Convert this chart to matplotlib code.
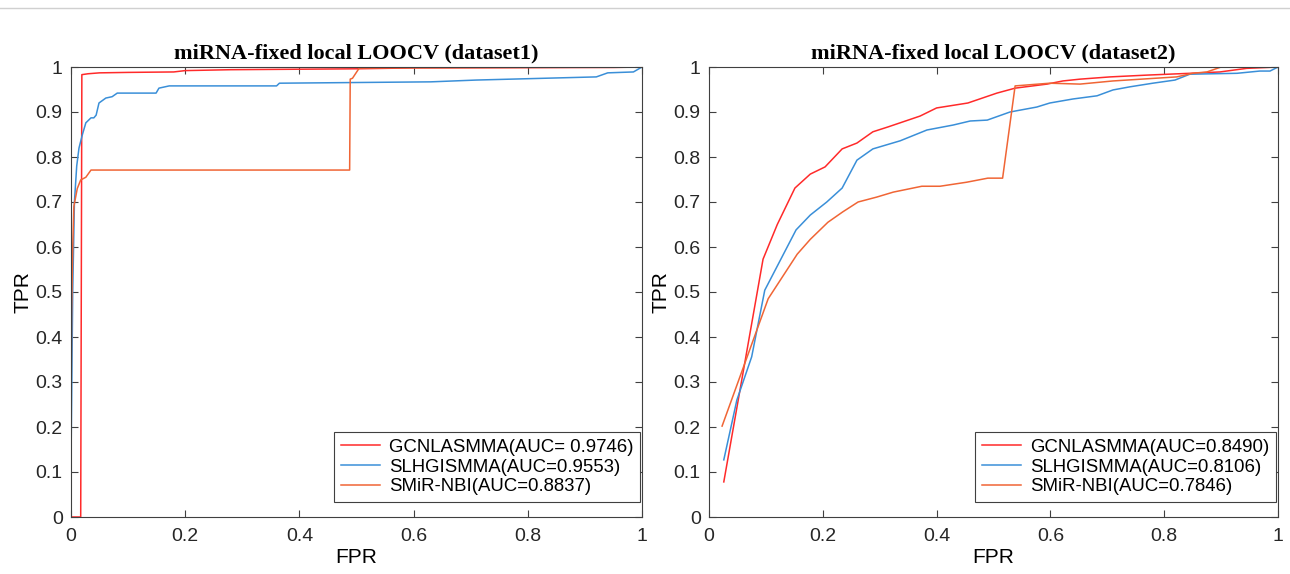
import matplotlib
matplotlib.use("Agg")
import matplotlib.pyplot as plt
from matplotlib.lines import Line2D
from matplotlib.ticker import FuncFormatter

# ---------------- data ----------------
titles = ["miRNA-fixed local LOOCV (dataset1)", "miRNA-fixed local LOOCV (dataset2)"]
methods = ["GCNLASMMA", "SLHGISMMA", "SMiR-NBI"]
auc1 = ["0.9746", "0.9553", "0.8837"]
auc2 = ["0.8490", "0.8106", "0.7846"]

# dataset1
d1_gcn_fpr = [0, 0.017, 0.019, 0.03, 0.05, 0.1, 0.18, 0.2, 0.28, 0.5, 0.6, 0.95, 1.0]
d1_gcn_tpr = [0, 0, 0.983, 0.985, 0.987, 0.988, 0.989, 0.992, 0.994, 0.996, 0.998, 0.999, 1.0]
d1_slh_fpr = [0, 0.003, 0.006, 0.01, 0.014, 0.02, 0.026, 0.035, 0.04, 0.044, 0.049, 0.061,
              0.072, 0.081, 0.149, 0.154, 0.172, 0.36, 0.365, 0.63, 0.71, 0.92, 0.94, 0.985, 1.0]
d1_slh_tpr = [0.12, 0.5, 0.7, 0.78, 0.82, 0.85, 0.876, 0.887, 0.887, 0.893, 0.92, 0.931,
              0.934, 0.942, 0.942, 0.953, 0.958, 0.958, 0.964, 0.967, 0.971, 0.978, 0.987, 0.989, 1.0]
d1_nbi_fpr = [0, 0.001, 0.003, 0.005, 0.011, 0.017, 0.026, 0.035, 0.488, 0.489, 0.493, 0.505, 1.0]
d1_nbi_tpr = [0.2, 0.45, 0.6, 0.69, 0.73, 0.749, 0.755, 0.771, 0.771, 0.973, 0.975, 0.998, 1.0]

# dataset2
d2_gcn_fpr = [0.026, 0.095, 0.12, 0.151, 0.178, 0.204, 0.234, 0.26, 0.288, 0.315, 0.336, 0.371,
              0.40, 0.42, 0.455, 0.506, 0.538, 0.594, 0.622, 0.652, 0.705, 0.77, 0.845, 0.898, 0.945, 1.0]
d2_gcn_tpr = [0.078, 0.573, 0.65, 0.731, 0.762, 0.778, 0.818, 0.831, 0.856, 0.867, 0.876, 0.891,
              0.909, 0.913, 0.92, 0.942, 0.953, 0.962, 0.969, 0.973, 0.978, 0.982, 0.986, 0.989, 0.997, 1.0]
d2_slh_fpr = [0.026, 0.049, 0.075, 0.098, 0.153, 0.178, 0.207, 0.234, 0.26, 0.288, 0.336, 0.383,
              0.429, 0.459, 0.489, 0.529, 0.576, 0.599, 0.64, 0.682, 0.71, 0.74, 0.78, 0.819,
              0.845, 0.928, 0.968, 0.986, 1.0]
d2_slh_tpr = [0.127, 0.26, 0.356, 0.504, 0.638, 0.671, 0.70, 0.731, 0.793, 0.818, 0.836, 0.86,
              0.871, 0.88, 0.882, 0.90, 0.911, 0.92, 0.929, 0.936, 0.949, 0.956, 0.964, 0.971,
              0.984, 0.986, 0.991, 0.991, 1.0]
d2_nbi_fpr = [0.023, 0.104, 0.155, 0.178, 0.209, 0.235, 0.262, 0.295, 0.324, 0.374, 0.406, 0.453,
              0.49, 0.516, 0.538, 0.599, 0.652, 0.71, 0.822, 0.85, 0.875, 0.9, 1.0]
d2_nbi_tpr = [0.202, 0.485, 0.584, 0.617, 0.655, 0.678, 0.70, 0.711, 0.722, 0.735, 0.735, 0.744,
              0.753, 0.753, 0.958, 0.964, 0.962, 0.969, 0.978, 0.986, 0.989, 1.0, 1.0]

colors = ["#ff2a2a", "#3a8fd8", "#f06535"]

# ---------------- plot ----------------
fig = plt.figure(figsize=(12.9, 5.74), dpi=100)
fig.add_artist(Line2D([0, 1], [1 - 8 / 574, 1 - 8 / 574], transform=fig.transFigure,
                      color="#d0d0d0", lw=1))

ax1 = fig.add_axes([71 / 1290, 1 - 517 / 574, (642 - 71) / 1290, (517 - 67) / 574])
ax2 = fig.add_axes([709 / 1290, 1 - 517 / 574, (1278 - 709) / 1290, (517 - 67) / 574])

sans = ["Liberation Sans", "DejaVu Sans"]
serif = ["Liberation Serif", "DejaVu Serif"]

def fmt(v, pos):
    s = f"{v:.1f}"
    if s == "0.0":
        return "0"
    if s == "1.0":
        return "1"
    return s

panels = [
    (ax1, titles[0], auc1,
     [(d1_gcn_fpr, d1_gcn_tpr), (d1_slh_fpr, d1_slh_tpr), (d1_nbi_fpr, d1_nbi_tpr)]),
    (ax2, titles[1], auc2,
     [(d2_gcn_fpr, d2_gcn_tpr), (d2_slh_fpr, d2_slh_tpr), (d2_nbi_fpr, d2_nbi_tpr)]),
]

for ax, title, aucs, curves in panels:
    for (x, y), c, m, a in zip(curves, colors, methods, aucs):
        lab = f"{m}(AUC= {a})" if (m == "GCNLASMMA" and ax is ax1) else f"{m}(AUC={a})"
        ax.plot(x, y, color=c, lw=1.1, label=lab)
    ax.set_xlim(0, 1)
    ax.set_ylim(0, 1)
    ax.set_xticks([0, 0.2, 0.4, 0.6, 0.8, 1.0])
    ax.set_yticks([i / 10 for i in range(11)])
    ax.xaxis.set_major_formatter(FuncFormatter(fmt))
    ax.yaxis.set_major_formatter(FuncFormatter(fmt))
    ax.tick_params(direction="in", top=True, right=True, length=5, width=0.8,
                   colors="#404040", labelcolor="#262626", labelsize=14)
    ax.tick_params(axis="x", pad=8)
    ax.tick_params(axis="y", pad=6)
    for lbl in ax.get_xticklabels() + ax.get_yticklabels():
        lbl.set_family(sans)
    for sp in ax.spines.values():
        sp.set_color("#404040")
        sp.set_linewidth(0.8)
    ax.set_title(title, fontfamily=serif, fontweight="bold", fontsize=16, pad=6)
    ax.set_xlabel("FPR", fontfamily=sans, fontsize=15, labelpad=2)
    ax.set_ylabel("TPR", fontfamily=sans, fontsize=15, labelpad=2)
    w = ax.get_position().width * 1290
    h = ax.get_position().height * 574
    leg = ax.legend(loc="lower right", bbox_to_anchor=(1 - 2 / w, 15 / h),
                    prop={"family": sans, "size": 13.4},
                    fancybox=False, edgecolor="#404040", framealpha=1,
                    handlelength=2.1, handletextpad=0.5, borderpad=0.35,
                    labelspacing=0.15, borderaxespad=0)
    leg.get_frame().set_linewidth(0.8)

fig.savefig("out.png", dpi=100)
